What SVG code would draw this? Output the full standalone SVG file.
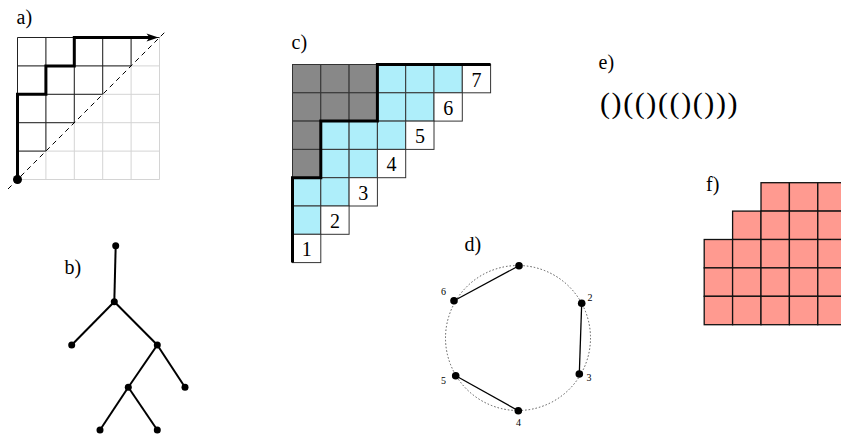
<svg xmlns="http://www.w3.org/2000/svg" width="841" height="436" viewBox="0 0 841 436">
<style>
  .lbl { font-family: "Liberation Serif", "Times New Roman", serif; font-size: 20px; fill: #000; }
  .num { font-family: "Liberation Serif", "Times New Roman", serif; font-size: 20px; fill: #000; text-anchor: middle; }
  .small { font-family: "Liberation Serif", "Times New Roman", serif; font-size: 10px; fill: #000; text-anchor: middle; }
  .light { stroke: #d4d4d4; stroke-width: 1; fill: none; }
  .dark { stroke: #222; stroke-width: 1; fill: none; }
  .thick { stroke: #000; stroke-width: 3; fill: none; }
  .edge { stroke: #000; stroke-width: 2; fill: none; }
  .dot { fill: #000; }
  .gray { fill: #888888; stroke: #333; stroke-width: 1; }
  .cyan { fill: #aeeefa; stroke: #333; stroke-width: 1; }
  .white { fill: #ffffff; stroke: #333; stroke-width: 1; }
  .salmon { fill: #ff9a90; stroke: #111; stroke-width: 1.3; }
</style>
<rect width="841" height="436" fill="#fff"/>

<!-- Panel a -->
<g id="panel-a">
  <text class="lbl" x="16.5" y="23.5">a)</text>
  <g class="light">
    <path d="M17.5,37.5 H159.5 M17.5,65.9 H159.5 M17.5,94.3 H159.5 M17.5,122.7 H159.5 M17.5,151.1 H159.5 M17.5,179.5 H159.5"/>
    <path d="M17.5,37.5 V179.5 M45.9,37.5 V179.5 M74.3,37.5 V179.5 M102.7,37.5 V179.5 M131.1,37.5 V179.5 M159.5,37.5 V179.5"/>
  </g>
  <g class="dark">
    <path d="M17.5,37.5 H159.5 M17.5,65.9 H131.1 M17.5,94.3 H102.7 M17.5,122.7 H74.3 M17.5,151.1 H45.9"/>
    <path d="M17.5,37.5 V179.5 M45.9,37.5 V151.1 M74.3,37.5 V122.7 M102.7,37.5 V94.3 M131.1,37.5 V65.9"/>
  </g>
  <path d="M8,189 L166,31" stroke="#000" stroke-width="1" stroke-dasharray="5,4" fill="none"/>
  <path class="thick" d="M17.5,179.5 V94.3 H45.9 V65.9 H74.3 V37.5 H150"/>
  <polygon points="158.5,37.5 146.5,33.5 149.5,37.5 146.5,41.5" fill="#000"/>
  <circle class="dot" cx="17.5" cy="179.5" r="4.5"/>
</g>

<!-- Panel b: tree -->
<g id="panel-b">
  <text class="lbl" x="64.5" y="273.5">b)</text>
  <g id="tree-edges" class="edge">
    <line x1="115.7" y1="245.7" x2="114.3" y2="301.7"/>
    <line x1="114.3" y1="301.7" x2="71.7" y2="345"/>
    <line x1="114.3" y1="301.7" x2="157.3" y2="345"/>
    <line x1="157.3" y1="345" x2="128.3" y2="387.3"/>
    <line x1="157.3" y1="345" x2="185" y2="387.3"/>
    <line x1="128.3" y1="387.3" x2="100" y2="430"/>
    <line x1="128.3" y1="387.3" x2="157.3" y2="430"/>
  </g>
  <g id="tree-nodes" class="dot">
    <circle cx="115.7" cy="245.7" r="3.5"/>
    <circle cx="114.3" cy="301.7" r="3.5"/>
    <circle cx="71.7" cy="345" r="3.5"/>
    <circle cx="157.3" cy="345" r="3.5"/>
    <circle cx="128.3" cy="387.3" r="3.5"/>
    <circle cx="185" cy="387.3" r="3.5"/>
    <circle cx="100" cy="430" r="3.5"/>
    <circle cx="157.3" cy="430" r="3.5"/>
  </g>
</g>

<!-- Panel c -->
<g id="panel-c">
  <text class="lbl" x="291.5" y="48.5">c)</text>
  <!-- row 0 -->
  <rect class="gray" x="292.5" y="64.5" width="28.3" height="28.3"/>
  <rect class="gray" x="320.8" y="64.5" width="28.3" height="28.3"/>
  <rect class="gray" x="349.1" y="64.5" width="28.3" height="28.3"/>
  <rect class="cyan" x="377.4" y="64.5" width="28.3" height="28.3"/>
  <rect class="cyan" x="405.7" y="64.5" width="28.3" height="28.3"/>
  <rect class="cyan" x="434" y="64.5" width="28.3" height="28.3"/>
  <rect class="white" x="462.3" y="64.5" width="28.3" height="28.3"/>
  <!-- row 1 -->
  <rect class="gray" x="292.5" y="92.8" width="28.3" height="28.3"/>
  <rect class="gray" x="320.8" y="92.8" width="28.3" height="28.3"/>
  <rect class="gray" x="349.1" y="92.8" width="28.3" height="28.3"/>
  <rect class="cyan" x="377.4" y="92.8" width="28.3" height="28.3"/>
  <rect class="cyan" x="405.7" y="92.8" width="28.3" height="28.3"/>
  <rect class="white" x="434" y="92.8" width="28.3" height="28.3"/>
  <!-- row 2 -->
  <rect class="gray" x="292.5" y="121.1" width="28.3" height="28.3"/>
  <rect class="cyan" x="320.8" y="121.1" width="28.3" height="28.3"/>
  <rect class="cyan" x="349.1" y="121.1" width="28.3" height="28.3"/>
  <rect class="cyan" x="377.4" y="121.1" width="28.3" height="28.3"/>
  <rect class="white" x="405.7" y="121.1" width="28.3" height="28.3"/>
  <!-- row 3 -->
  <rect class="gray" x="292.5" y="149.4" width="28.3" height="28.3"/>
  <rect class="cyan" x="320.8" y="149.4" width="28.3" height="28.3"/>
  <rect class="cyan" x="349.1" y="149.4" width="28.3" height="28.3"/>
  <rect class="white" x="377.4" y="149.4" width="28.3" height="28.3"/>
  <!-- row 4 -->
  <rect class="cyan" x="292.5" y="177.7" width="28.3" height="28.3"/>
  <rect class="cyan" x="320.8" y="177.7" width="28.3" height="28.3"/>
  <rect class="white" x="349.1" y="177.7" width="28.3" height="28.3"/>
  <!-- row 5 -->
  <rect class="cyan" x="292.5" y="206" width="28.3" height="28.3"/>
  <rect class="white" x="320.8" y="206" width="28.3" height="28.3"/>
  <!-- row 6 -->
  <rect class="white" x="292.5" y="234.3" width="28.3" height="28.3"/>
  <path class="thick" d="M292.5,262.6 V177.7 H320.8 V121.1 H377.4 V64.5 H490.6"/>
  <text class="num" x="476.5" y="86.5">7</text>
  <text class="num" x="448.2" y="114.8">6</text>
  <text class="num" x="419.9" y="143.1">5</text>
  <text class="num" x="391.6" y="171.4">4</text>
  <text class="num" x="363.3" y="199.7">3</text>
  <text class="num" x="335" y="228">2</text>
  <text class="num" x="306.7" y="256.3">1</text>
</g>

<!-- Panel d -->
<g id="panel-d">
  <text class="lbl" x="464.5" y="251">d)</text>
  <circle cx="518" cy="338" r="72.5" fill="none" stroke="#555" stroke-width="1" stroke-dasharray="1.5,2"/>
  <g id="chords" class="edge" style="stroke-width:1.3">
    <line x1="519" y1="265.7" x2="454" y2="300.7"/>
    <line x1="581.7" y1="303.3" x2="579.3" y2="374"/>
    <line x1="518.3" y1="410.7" x2="455.7" y2="375.7"/>
  </g>
  <g class="dot">
    <circle cx="519" cy="265.7" r="3.8"/>
    <circle cx="581.7" cy="303.3" r="3.8"/>
    <circle cx="579.3" cy="374" r="3.8"/>
    <circle cx="518.3" cy="410.7" r="3.8"/>
    <circle cx="455.7" cy="375.7" r="3.8"/>
    <circle cx="454" cy="300.7" r="3.8"/>
  </g>
  <text class="small" x="590" y="301">2</text>
  <text class="small" x="589" y="381">3</text>
  <text class="small" x="518.5" y="426">4</text>
  <text class="small" x="443.5" y="384">5</text>
  <text class="small" x="443.5" y="295">6</text>
</g>

<!-- Panel e -->
<g id="panel-e">
  <text class="lbl" x="598.5" y="68.5">e)</text>
  <text x="600" y="113" style="font-family:'Liberation Serif','Times New Roman',serif;font-size:30px;letter-spacing:1.6px">()(()(()()))</text>
</g>

<!-- Panel f -->
<g id="panel-f">
  <text class="lbl" x="706" y="191">f)</text>
  <!-- row 0 -->
  <rect class="salmon" x="761" y="182.7" width="28.4" height="28.4"/>
  <rect class="salmon" x="789.4" y="182.7" width="28.4" height="28.4"/>
  <rect class="salmon" x="817.8" y="182.7" width="28.4" height="28.4"/>
  <!-- row 1 -->
  <rect class="salmon" x="732.6" y="211.1" width="28.4" height="28.4"/>
  <rect class="salmon" x="761" y="211.1" width="28.4" height="28.4"/>
  <rect class="salmon" x="789.4" y="211.1" width="28.4" height="28.4"/>
  <rect class="salmon" x="817.8" y="211.1" width="28.4" height="28.4"/>
  <!-- rows 2-4 -->
  <rect class="salmon" x="704.2" y="239.5" width="28.4" height="28.4"/>
  <rect class="salmon" x="732.6" y="239.5" width="28.4" height="28.4"/>
  <rect class="salmon" x="761" y="239.5" width="28.4" height="28.4"/>
  <rect class="salmon" x="789.4" y="239.5" width="28.4" height="28.4"/>
  <rect class="salmon" x="817.8" y="239.5" width="28.4" height="28.4"/>
  <rect class="salmon" x="704.2" y="267.9" width="28.4" height="28.4"/>
  <rect class="salmon" x="732.6" y="267.9" width="28.4" height="28.4"/>
  <rect class="salmon" x="761" y="267.9" width="28.4" height="28.4"/>
  <rect class="salmon" x="789.4" y="267.9" width="28.4" height="28.4"/>
  <rect class="salmon" x="817.8" y="267.9" width="28.4" height="28.4"/>
  <rect class="salmon" x="704.2" y="296.3" width="28.4" height="28.4"/>
  <rect class="salmon" x="732.6" y="296.3" width="28.4" height="28.4"/>
  <rect class="salmon" x="761" y="296.3" width="28.4" height="28.4"/>
  <rect class="salmon" x="789.4" y="296.3" width="28.4" height="28.4"/>
  <rect class="salmon" x="817.8" y="296.3" width="28.4" height="28.4"/>
</g>
</svg>
